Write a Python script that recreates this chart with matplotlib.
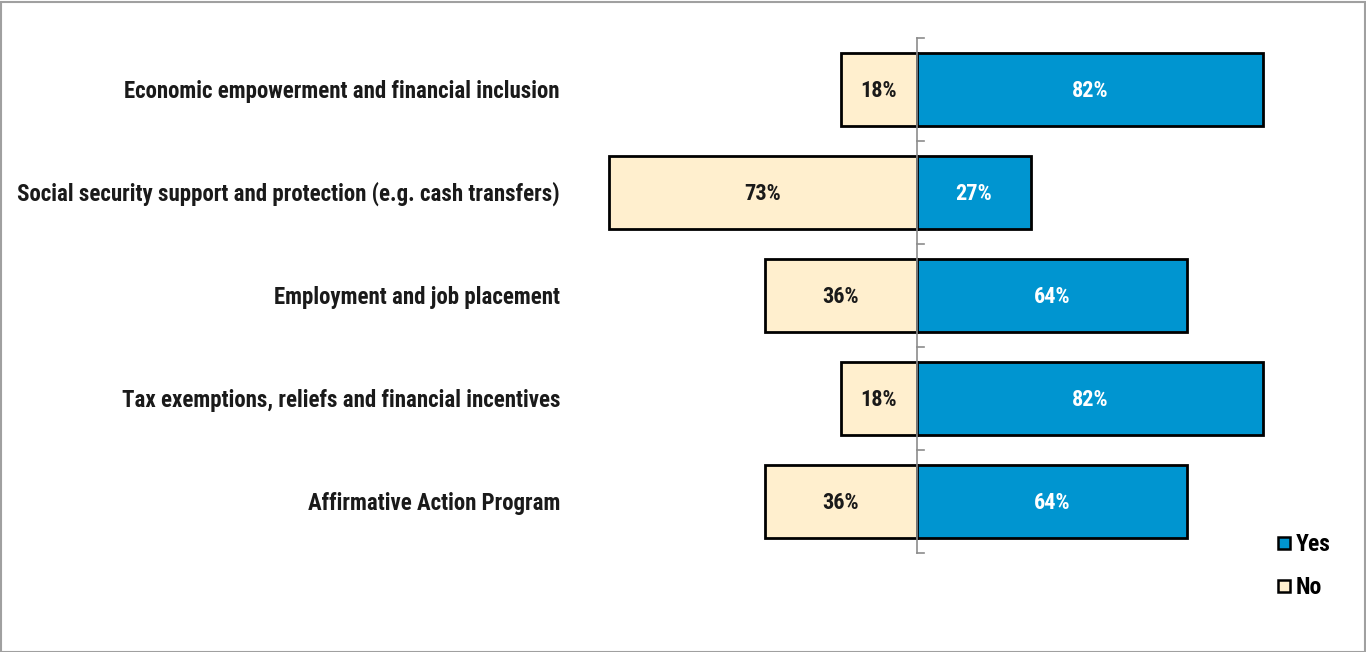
import matplotlib
matplotlib.use("Agg")
import matplotlib.pyplot as plt
from matplotlib.patches import Rectangle
from matplotlib.lines import Line2D
from matplotlib import font_manager as fm
import matplotlib.transforms as mtransforms

categories = [
    "Economic empowerment and financial inclusion",
    "Social security support and protection (e.g. cash transfers)",
    "Employment and job placement",
    "Tax exemptions, reliefs and financial incentives",
    "Affirmative Action Program",
]
yes_vals = [82, 27, 64, 82, 64]
no_vals = [18, 73, 36, 18, 36]

BLUE = "#0095D0"
CREAM = "#FFEFCE"

available = {f.name for f in fm.fontManager.ttflist}
preferred = ["Roboto Condensed", "Archivo Narrow", "PT Sans Narrow", "Liberation Sans Narrow",
             "Arial Narrow", "Barlow Condensed", "Fira Sans Condensed", "IBM Plex Sans Condensed",
             "Encode Sans Condensed", "Pragati Narrow", "Open Sans Condensed"]
chosen = next((p for p in preferred if p in available), "DejaVu Sans")
FONT = [chosen, "DejaVu Sans"]

W, H = 1366, 652
fig = plt.figure(figsize=(W / 100, H / 100), dpi=100)
fig.patch.set_facecolor("white")

ax_l, ax_r = 590, 1272
ax_t, ax_b = 38, 553
ax = fig.add_axes([ax_l / W, (H - ax_b) / H, (ax_r - ax_l) / W, (ax_b - ax_t) / H])
px_per = 4.22
zero_px = 917
ax.set_xlim(-(zero_px - ax_l) / px_per, (ax_r - zero_px) / px_per)
n = len(categories)
ax.set_ylim(n - 0.5, -0.5)

ys = list(range(n))
ax.barh(ys, [-v for v in no_vals], height=0.7, color=CREAM, edgecolor="black", linewidth=2, zorder=2)
ax.barh(ys, yes_vals, height=0.7, color=BLUE, edgecolor="black", linewidth=2, zorder=2)

for y, nv, yv in zip(ys, no_vals, yes_vals):
    ax.text(-nv / 2, y + 0.015, f"{nv}%", ha="center", va="center", fontsize=16, fontweight="bold",
            color="#1a1a1a", family=FONT, zorder=3)
    ax.text(yv / 2, y + 0.015, f"{yv}%", ha="center", va="center", fontsize=16, fontweight="bold",
            color="white", family=FONT, zorder=3)

for s in ["top", "right", "bottom"]:
    ax.spines[s].set_visible(False)
ax.spines["left"].set_position(("data", 0))
ax.spines["left"].set_color("#8c8c8c")
ax.spines["left"].set_linewidth(1.2)
ax.spines["left"].set_zorder(4)
ax.set_xticks([])
ax.set_yticks([])
for i in range(n + 1):
    ax.plot([0, 7 / px_per], [i - 0.5, i - 0.5], color="#8c8c8c", lw=1.2, zorder=4, clip_on=False)

trans = mtransforms.blended_transform_factory(fig.transFigure, ax.transData)
label_texts = []
for y, c in zip(ys, categories):
    t = ax.text(560 / W, y + 0.015, c, transform=trans, ha="right", va="center", fontsize=15,
                fontweight="bold", color="#1a1a1a", family=FONT)
    label_texts.append(t)
renderer = fig.canvas.get_renderer()
widest = max(t.get_window_extent(renderer).width for t in label_texts)
size = min(17, 15 * 542 / widest)
for t in label_texts:
    t.set_fontsize(size)

handles = [
    Line2D([], [], marker="s", linestyle="none", markersize=8, markerfacecolor=BLUE,
           markeredgecolor="black", markeredgewidth=1.8, label="Yes"),
    Line2D([], [], marker="s", linestyle="none", markersize=8, markerfacecolor=CREAM,
           markeredgecolor="black", markeredgewidth=1.8, label="No"),
]
fig.legend(handles=handles, loc="center left", bbox_to_anchor=(1260 / W, 1 - 566 / H),
           frameon=False, prop={"family": FONT, "weight": "bold", "size": 17},
           handletextpad=0.0, handlelength=1.0, labelspacing=0.83, borderpad=0)

fig.add_artist(Rectangle((0.5 / W, 0.5 / H), 1 - 2 / W, 1 - 2 / H, transform=fig.transFigure,
                         fill=False, edgecolor="#a0a0a0", linewidth=1.5))

fig.savefig("out.png", dpi=100, facecolor="white")
